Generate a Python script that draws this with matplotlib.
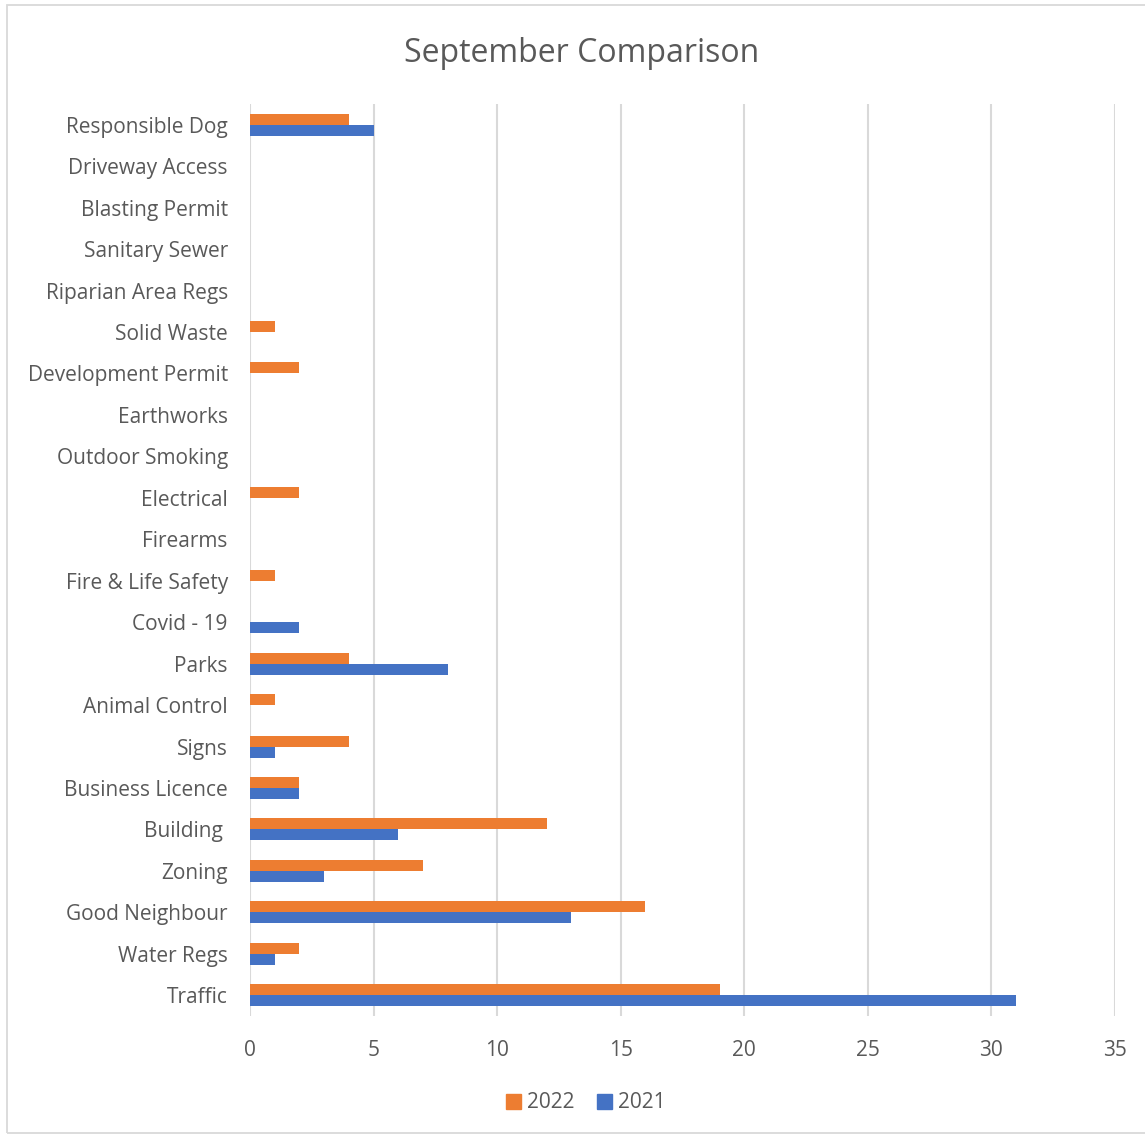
import matplotlib.pyplot as plt
from matplotlib.patches import Rectangle, Patch

categories = [
    "Responsible Dog", "Driveway Access", "Blasting Permit", "Sanitary Sewer",
    "Riparian Area Regs", "Solid Waste", "Development Permit", "Earthworks",
    "Outdoor Smoking", "Electrical", "Firearms", "Fire & Life Safety",
    "Covid - 19", "Parks", "Animal Control", "Signs", "Business Licence",
    "Building ", "Zoning", "Good Neighbour", "Water Regs", "Traffic",
]
values_2022 = [4, 0, 0, 0, 0, 1, 2, 0, 0, 2, 0, 1, 0, 4, 1, 4, 2, 12, 7, 16, 2, 19]
values_2021 = [5, 0, 0, 0, 0, 0, 0, 0, 0, 0, 0, 0, 2, 8, 0, 1, 2, 6, 3, 13, 1, 31]
x_ticks = [0, 5, 10, 15, 20, 25, 30, 35]

ORANGE = "#ED7D31"
BLUE = "#4472C4"
TEXT = "#595959"
GRID = "#D9D9D9"

plt.rcParams["font.family"] = ["Open Sans", "DejaVu Sans"]

W, H = 1145, 1135
fig = plt.figure(figsize=(W / 100, H / 100), dpi=100)

# outer chart frame
fig.patches.append(Rectangle((7 / W, 1 - 1133 / H), 1.2, (1133 - 5) / H,
                             transform=fig.transFigure, fill=False,
                             edgecolor=GRID, linewidth=1.3))

ax = fig.add_axes([250 / W, 1 - 1016 / H, (1115 - 250) / W, (1016 - 104) / H])

pos = list(range(len(categories)))
h = 0.265
ax.barh([p - h / 2 for p in pos], values_2022, height=h, color=ORANGE, label="2022", zorder=3)
ax.barh([p + h / 2 for p in pos], values_2021, height=h, color=BLUE, label="2021", zorder=3)

ax.set_ylim(len(categories) - 0.5, -0.5)
ax.set_xlim(0, 35)
ax.set_xticks(x_ticks)
ax.set_yticks(pos)
ax.set_yticklabels(categories)
ax.tick_params(axis="both", length=0, colors=TEXT, labelsize=15)
ax.tick_params(axis="y", pad=16)
ax.tick_params(axis="x", pad=17)
ax.xaxis.grid(True, color=GRID, linewidth=1.5, zorder=0)
ax.set_axisbelow(True)
for s in ax.spines.values():
    s.set_visible(False)

fig.text(582 / W, 1 - 53 / H, "September Comparison", ha="center", va="center",
         fontsize=23, color=TEXT)

handles = [Patch(color=ORANGE, label="2022"), Patch(color=BLUE, label="2021")]
fig.legend(handles=handles, loc="center", bbox_to_anchor=(586 / W, 1 - 1103 / H),
           ncol=2, frameon=False, fontsize=15, labelcolor=TEXT,
           handlelength=0.7, handleheight=0.7, handletextpad=0.3, columnspacing=1.1)

fig.savefig("out.png", dpi=100)
